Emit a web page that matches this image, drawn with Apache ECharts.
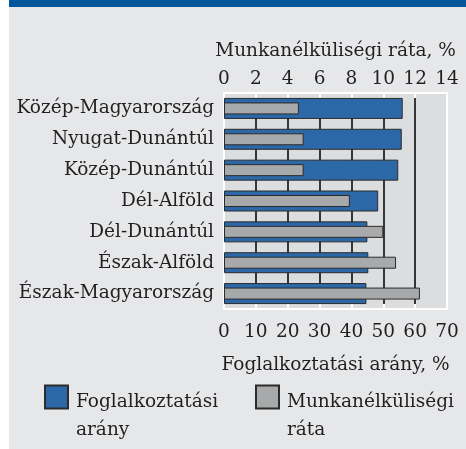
<!DOCTYPE html>
<html>
<head>
<meta charset="utf-8">
<script src="https://cdn.jsdelivr.net/npm/echarts@6/dist/echarts.min.js"></script>
<style>
  html, body { margin: 0; padding: 0; background: #fff; }
  #chart { width: 466px; height: 449px; }
</style>
</head>
<body>
<div id="chart"></div>
<script>
// régiók (felülről lefelé)
const regions = ['Közép-Magyarország', 'Nyugat-Dunántúl', 'Közép-Dunántúl', 'Dél-Alföld', 'Dél-Dunántúl', 'Észak-Alföld', 'Észak-Magyarország'];
// foglalkoztatási arány, % (alsó tengely)
const employment = [56.1, 55.8, 54.7, 48.4, 45.0, 45.3, 44.7];
// munkanélküliségi ráta, % (felső tengely)
const unemployment = [4.7, 5.0, 5.0, 7.9, 10.0, 10.8, 12.3];
const seriesNames = ['Foglalkoztatási arány', 'Munkanélküliségi ráta'];
const axisNames = ['Foglalkoztatási arány, %', 'Munkanélküliségi ráta, %'];

const FONT = 'DejaVu Serif';
const FS = 18.5;
const TEXT = '#231f20';

const chart = echarts.init(document.getElementById('chart'));

function valueAxis(pos, max, interval, name) {
    return {
        type: 'value',
        position: pos,
        min: 0,
        max: max,
        interval: interval,
        name: name,
        nameLocation: 'middle',
        nameGap: pos === 'top' ? 32 : 47,
        nameTextStyle: { fontFamily: FONT, fontSize: FS, color: TEXT },
        axisLine: { show: false },
        axisTick: { show: true, inside: true, length: 5, lineStyle: { color: '#fff', width: 2 } },
        axisLabel: { fontFamily: FONT, fontSize: FS, color: TEXT, margin: pos === 'top' ? 4 : 14 },
        splitLine: {
            show: true,
            showMinLine: false,
            showMaxLine: false,
            lineStyle: { color: '#2b2b2b', width: 1.5 }
        }
    };
}

function categoryAxis(show) {
    return {
        type: 'category',
        data: regions,
        inverse: true,
        show: show,
        axisLine: { show: false },
        axisTick: { show: false },
        axisLabel: { fontFamily: FONT, fontSize: FS, color: TEXT, margin: 10 }
    };
}

// a jelmagyarázat szövege az ikon sorától indul, ezért egy üres sor kerül elé
function legendFor(name, left) {
    return {
        data: [name],
        left: left,
        top: 364,
        icon: 'rect',
        itemWidth: 23,
        itemHeight: 23,
        padding: 0,
        formatter: n => '{e| }\n' + n.split(' ').map(w => '{t|' + w + '}').join('\n'),
        textStyle: {
            color: TEXT,
            padding: [0, 0, 0, 3],
            rich: {
                e: { fontSize: 10, lineHeight: 38 },
                t: { fontFamily: FONT, fontSize: FS, color: TEXT, lineHeight: 28 }
            }
        }
    };
}

chart.setOption({
    backgroundColor: '#ffffff',
    animation: false,
    graphic: [
        { type: 'rect', shape: { x: 9, y: 0, width: 457, height: 449 }, style: { fill: '#e6e7e8' }, z: -10 },
        { type: 'rect', shape: { x: 9, y: 0, width: 457, height: 7 }, style: { fill: '#00569a' }, z: -10 }
    ],
    grid: {
        left: 224, right: 19, top: 93, bottom: 140,
        show: true,
        backgroundColor: '#dcdddf',
        borderColor: '#ffffff',
        borderWidth: 2
    },
    xAxis: [
        valueAxis('bottom', 70, 10, axisNames[0]),
        valueAxis('top', 14, 2, axisNames[1])
    ],
    yAxis: [categoryAxis(true), categoryAxis(false)],
    legend: [legendFor(seriesNames[0], 44), legendFor(seriesNames[1], 255)],
    series: [
        {
            name: seriesNames[0],
            type: 'bar',
            xAxisIndex: 0,
            yAxisIndex: 0,
            data: employment,
            barWidth: 21,
            itemStyle: { color: '#2c68a8', borderColor: '#2b2b2b', borderWidth: 1 }
        },
        {
            name: seriesNames[1],
            type: 'bar',
            xAxisIndex: 1,
            yAxisIndex: 1,
            data: unemployment,
            barWidth: 12,
            itemStyle: { color: '#a8a9ab', borderColor: '#2b2b2b', borderWidth: 1 }
        }
    ]
});
</script>
</body>
</html>
